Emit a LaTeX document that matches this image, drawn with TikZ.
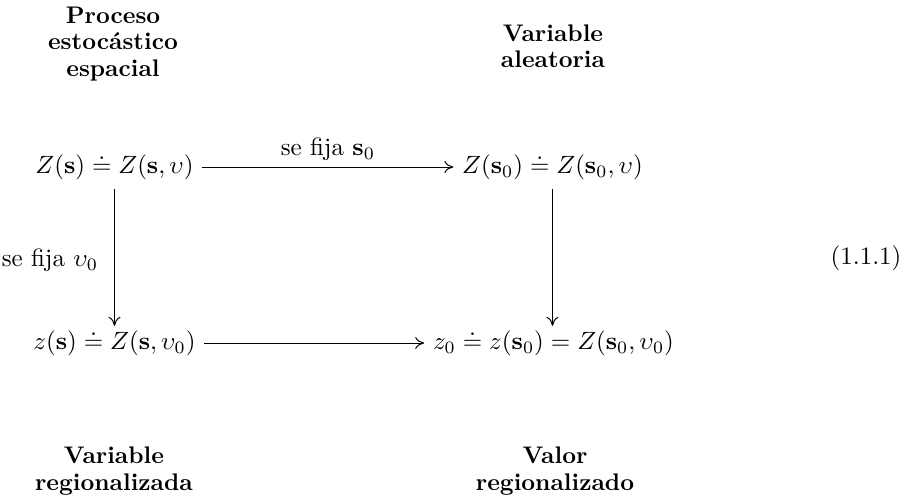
\documentclass[tikz,border=0pt]{standalone}
\usepackage{amsmath,amssymb}
\usetikzlibrary{arrows.meta}
\begin{document}
\begin{tikzpicture}[x=0.4pt,y=-0.4pt,
  expr/.style={inner sep=3.333pt},
  caption/.style={align=center,font=\fontsize{9.6}{10.6}\selectfont\bfseries},
  arr/.style={-{To[length=3.6pt,width=4.8pt]},line width=0.4pt},
  lbl/.style={font=\normalsize}]
\useasboundingbox (0,0) rectangle (919,500);
\node[caption] (tl) at (113,44) {Proceso\\estoc\'astico\\espacial};
\node[caption] (tr) at (553,46) {Variable\\aleatoria};
\node[caption] (bl) at (114,471) {Variable\\regionalizada};
\node[caption] (br) at (555,471) {Valor\\regionalizado};
\node[expr] (A) at (114.5,167) {$Z(\mathbf{s})\doteq Z(\mathbf{s},\upsilon)$};
\node[expr] (B) at (552.5,167) {$Z(\mathbf{s}_0)\doteq Z(\mathbf{s}_0,\upsilon)$};
\node[expr] (C) at (114.5,343) {$z(\mathbf{s})\doteq Z(\mathbf{s},\upsilon_0)$};
\node[expr] (D) at (553.5,343) {$z_0\doteq z(\mathbf{s}_0)=Z(\mathbf{s}_0,\upsilon_0)$};
\node (eq) at (866,258) {(1.1.1)};
\draw[arr] (A) -- node[midway,above,yshift=-1pt] (la) {se fija $\mathbf{s}_0$} (B);
\draw[arr,shorten >=-1.8pt] (A.south -| A) -- node[midway,left,xshift=-3pt,yshift=-2pt] (lb) {se fija $\upsilon_0$} (C.north -| C);
\draw[arr,shorten >=-1.8pt] (B.south -| B) -- (D.north -| B);
\draw[arr] (C) -- (D);
\end{tikzpicture}
\end{document}
